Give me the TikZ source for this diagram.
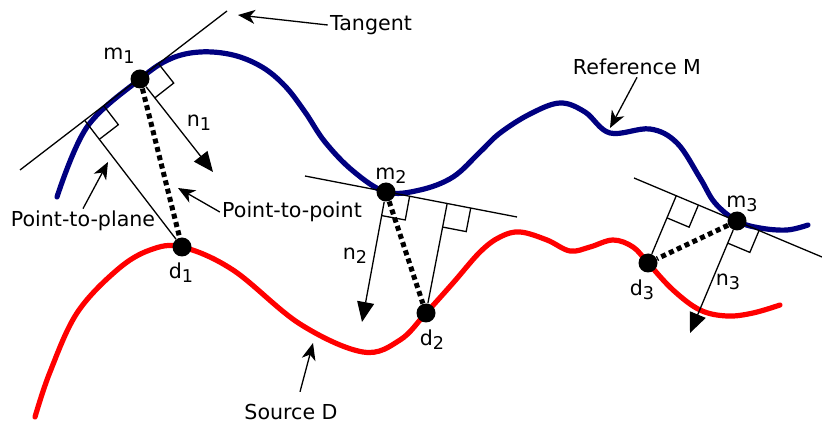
\documentclass[tikz,border=0pt]{standalone}
\usepackage{fontspec}
\setmainfont{DejaVu Sans}
\usepackage{tikz}
\usetikzlibrary{arrows.meta, calc, backgrounds}
\usepackage{xcolor}
\definecolor{curve-M}{HTML}{000080}
\definecolor{curve-D}{HTML}{FF0000}
\newcommand{\subl}[2]{#1\raisebox{-0.35ex}{\fontsize{8.8}{10}\selectfont #2}}
\newcommand{\perpmark}[2]{%  \perpmark{point}{along normal}
  \draw[thin line] ($(#1)!12pt!90:(#2)$) -- ($(#1)!12pt!90:(#2)!12pt!90:(#1)$)
        -- ($(#1)!12pt!(#2)$);}

\begin{document}
\begin{tikzpicture}[x=0.5pt, y=-0.5pt,
    every node/.style={font=\fontsize{10.3}{12}\selectfont, inner sep=1pt},
    pt dot/.style={circle, fill=black, inner sep=0pt, minimum size=9.5pt},
    curve/.style={line width=2.6pt, line cap=round},
    thin line/.style={line width=0.65pt},
    normal arrow/.style={thin line, -{Triangle[length=10pt, width=8.5pt]}},
    pointer/.style={thin line, -{Stealth[length=8.5pt, width=7pt, inset=2.5pt]}},
    dist line/.style={line width=2.5pt, dash pattern=on 2.5pt off 1.8pt}]
        \useasboundingbox (0,0) rectangle (822,426);
        % points on M and D
        \node[pt dot] (m1) at (140,79) {};
        \node[pt dot] (m2) at (386,192) {};
        \node[pt dot] (m3) at (737,221) {};
        \node[pt dot] (d1) at (182,247) {};
        \node[pt dot] (d2) at (426,313) {};
        \node[pt dot] (d3) at (648,263) {};
        % tangent ends and normal tips
        \coordinate (t1a) at (20,170);  \coordinate (t1b) at (227,11);
        \coordinate (t2a) at (305,176); \coordinate (t2b) at (517,217);
        \coordinate (t3a) at (634,178); \coordinate (t3b) at (822,257);
        \coordinate (n1tip) at (213,172);
        \coordinate (n2tip) at (362,322);
        \coordinate (n3tip) at (690,333);
        \coordinate (f1) at ($(t1a)!(d1)!(t1b)$);
        \coordinate (f2) at ($(t2a)!(d2)!(t2b)$);
        \coordinate (f3) at ($(t3a)!(d3)!(t3b)$);
        % labels
        \node (m1 lbl) at (119,56) {\subl{m}{1}};
        \node (m2 lbl) at (391,176) {\subl{m}{2}};
        \node (m3 lbl) at (742,204) {\subl{m}{3}};
        \node (n1 lbl) at (199,123) {\subl{n}{1}};
        \node (n2 lbl) at (355,256) {\subl{n}{2}};
        \node (n3 lbl) at (728,282) {\subl{n}{3}};
        \node (d1 lbl) at (181,273) {\subl{d}{1}};
        \node (d2 lbl) at (432,340) {\subl{d}{2}};
        \node (d3 lbl) at (642,290) {\subl{d}{3}};
        \node (tangent) at (371,25) {Tangent};
        \node (ref) at (637,67) {Reference M};
        \node (p2point) at (292,212) {Point-to-point};
        \node (p2plane) at (83,221) {Point-to-plane};
        \node (source) at (291,412) {Source D};
        \coordinate (tangent tip) at (238,15);
        \coordinate (ref tip) at (610,128);
        \coordinate (p2point tip) at (178,188);
        \coordinate (p2plane tip) at (108,162);
        \coordinate (source tip) at (313,343);
        \begin{scope}[on background layer]
          % Reference M and Source D
          \draw[curve, curve-M] plot[smooth, tension=0.6] coordinates {
            (57,197) (87,127) (140,79) (170,59) (200,52) (233,55) (262,67)
            (285,86) (305,112) (325,142) (353,171) (386,192) (420,190)
            (453,177) (480,152) (500,133) (530,114) (560,103) (585,112)
            (610,133) (650,129) (677,143) (700,178) (715,203)
            (737,221) (760,228) (787,230) (808,225)};
          \draw[curve, curve-D] plot[smooth, tension=0.6] coordinates {
            (35,417) (50,372) (77,313) (117,270) (150,250) (182,247)
            (233,270) (300,324) (363,352) (400,340) (426,313)
            (453,283) (480,252) (500,237) (520,232) (547,240) (570,251)
            (590,247) (613,240) (633,247) (648,263) (673,290) (700,310)
            (727,316) (753,313) (780,305)};
          % tangents, normals and distances
          \draw[thin line] (t1a) -- (t1b);
          \draw[thin line] (t2a) -- (t2b);
          \draw[thin line] (t3a) -- (t3b);
          \perpmark{m1}{n1tip}\perpmark{m2}{n2tip}\perpmark{m3}{n3tip}
          \perpmark{f1}{d1}\perpmark{f2}{d2}\perpmark{f3}{d3}
          \draw[normal arrow] (m1) -- (n1tip);
          \draw[normal arrow] (m2) -- (n2tip);
          \draw[normal arrow] (m3) -- (n3tip);
          \draw[thin line] (f1) -- (d1);
          \draw[thin line] (f2) -- (d2);
          \draw[thin line] (f3) -- (d3);
          \draw[dist line] (m1) -- (d1);
          \draw[dist line] (m2) -- (d2);
          \draw[dist line] (m3) -- (d3);
        \end{scope}
        % pointers
        \draw[pointer] (tangent.west) -- (tangent tip);
        \draw[pointer] (ref.south) -- (ref tip);
        \draw[pointer] (p2point.west) -- (p2point tip);
        \draw[pointer] (p2plane.north) -- (p2plane tip);
        \draw[pointer] ([xshift=4.5pt, yshift=5pt]source.north) -- (source tip);
\end{tikzpicture}
\end{document}
